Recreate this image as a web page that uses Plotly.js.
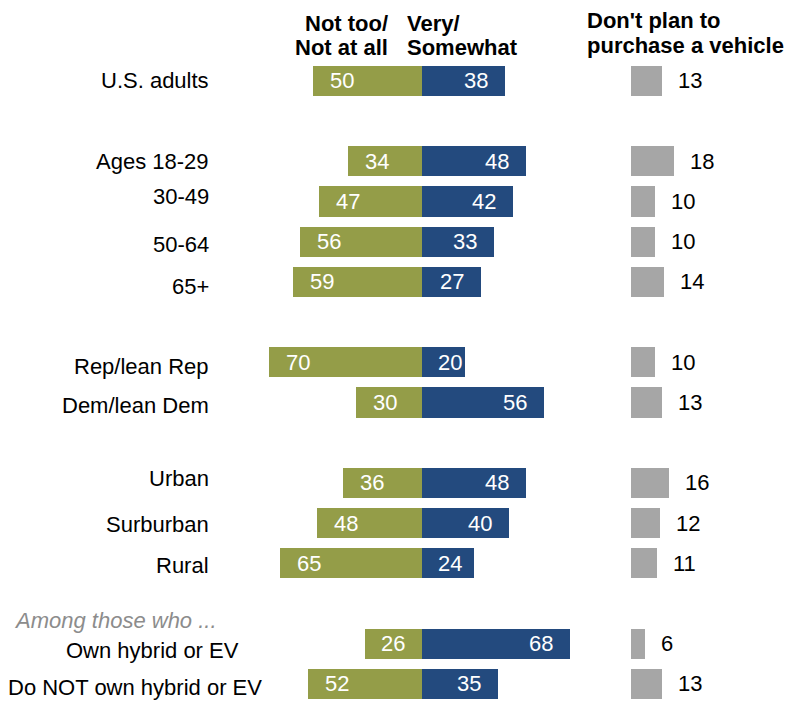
<!DOCTYPE html>
<html>
<head>
<meta charset="utf-8">
<script src="https://cdn.plot.ly/plotly-3.0.1.min.js"></script>
<style>
  html, body { margin: 0; padding: 0; background: #ffffff; }
  #chart { width: 792px; height: 704px; }
</style>
</head>
<body>
<div id="chart"></div>
<script>
// ---- Data ----
const categories = [
  "U.S. adults",
  "Ages 18-29", "30-49", "50-64", "65+",
  "Rep/lean Rep", "Dem/lean Dem",
  "Urban", "Surburban", "Rural",
  "Own hybrid or EV", "Do NOT own hybrid or EV"
];
const groupIndex = [0, 1, 1, 1, 1, 2, 2, 3, 3, 3, 4, 4];
const notTooNotAtAll = [50, 34, 47, 56, 59, 70, 30, 36, 48, 65, 26, 52];
const verySomewhat   = [38, 48, 42, 33, 27, 20, 56, 48, 40, 24, 68, 35];
const dontPlan       = [13, 18, 10, 10, 14, 10, 13, 16, 12, 11, 6, 13];
const headerLeft  = ["Not too/", "Not at all"];
const headerMid   = ["Very/", "Somewhat"];
const headerRight = ["Don't plan to", "purchase a vehicle"];
const subgroupNote = "Among those who ...";

// ---- Layout helpers (positions/styles, not data) ----
const W = 792, H = 704;
const GREEN = "#949D48", BLUE = "#234A7E", GRAY = "#A6A6A6";
const FONT = "Liberation Sans, Arial, sans-serif";
const rows = categories.map((c, i) => i + groupIndex[i]);
const px = v => v / W;
const py = v => 1 - v / H;
// label placement tweaks (pixel right edge & vertical nudge)
const labelRight = {"Own hybrid or EV": 241, "Do NOT own hybrid or EV": 264};
const labelNudge = {"30-49": 5, "50-64": -3, "65+": -5, "Rep/lean Rep": -4, "Dem/lean Dem": -3,
                    "Urban": 4, "Surburban": -1, "Rural": -2, "Own hybrid or EV": -7, "Do NOT own hybrid or EV": -4};

const traces = [
  {
    type: "bar", orientation: "h", name: "Not too/Not at all",
    y: rows, x: notTooNotAtAll.map(v => -v), width: 0.75,
    marker: {color: GREEN, line: {width: 0}}, hoverinfo: "skip",
    xaxis: "x", yaxis: "y"
  },
  {
    type: "bar", orientation: "h", name: "Very/Somewhat",
    y: rows, x: verySomewhat, width: 0.75,
    marker: {color: BLUE, line: {width: 0}}, hoverinfo: "skip",
    xaxis: "x", yaxis: "y"
  },
  {
    type: "bar", orientation: "h", name: "Don't plan to purchase a vehicle",
    y: rows, x: dontPlan, width: 0.75,
    marker: {color: GRAY, line: {width: 0}}, hoverinfo: "skip",
    xaxis: "x2", yaxis: "y"
  }
];

const annotations = [];
const baseFont = {family: FONT, size: 22, color: "#000000"};
categories.forEach((c, i) => {
  annotations.push({
    text: c, xref: "paper", yref: "y", x: px(labelRight[c] || 211), y: rows[i],
    xanchor: "right", yanchor: "middle", showarrow: false, font: baseFont,
    yshift: labelNudge[c] || 0
  });
  const g = notTooNotAtAll[i];
  annotations.push({
    text: String(g), xref: "x", yref: "y", x: -Math.max(g - 13.3, 13), y: rows[i],
    xanchor: "center", yanchor: "middle", showarrow: false,
    font: {family: FONT, size: 22, color: "#ffffff"}
  });
  const b = verySomewhat[i];
  annotations.push({
    text: String(b), xref: "x", yref: "y", x: Math.max(b - 13.3, 13), y: rows[i],
    xanchor: "center", yanchor: "middle", showarrow: false,
    font: {family: FONT, size: 22, color: "#ffffff"}
  });
  annotations.push({
    text: String(dontPlan[i]), xref: "x2", yref: "y", x: dontPlan[i], y: rows[i],
    xanchor: "left", yanchor: "middle", showarrow: false, xshift: 14,
    font: baseFont
  });
});

const headFont = {family: FONT, size: 22, color: "#000000", weight: "bold"};
headerLeft.forEach((t, k) => annotations.push({
  text: "<b>" + t + "</b>", xref: "paper", yref: "paper", x: px(390), y: py(k ? 47.5 : 23),
  xanchor: "right", yanchor: "middle", showarrow: false, font: headFont
}));
headerMid.forEach((t, k) => annotations.push({
  text: "<b>" + t + "</b>", xref: "paper", yref: "paper", x: px(405), y: py(k ? 47.5 : 23),
  xanchor: "left", yanchor: "middle", showarrow: false, font: headFont
}));
headerRight.forEach((t, k) => annotations.push({
  text: "<b>" + t + "</b>", xref: "paper", yref: "paper", x: px(585), y: py(k ? 45 : 20),
  xanchor: "left", yanchor: "middle", showarrow: false, font: headFont
}));
annotations.push({
  text: "<i>" + subgroupNote + "</i>", xref: "paper", yref: "paper", x: px(12), y: py(620),
  xanchor: "left", yanchor: "middle", showarrow: false,
  font: {family: FONT, size: 22, color: "#8C8C8C"}
});

// axis ranges so that zero line sits at ~421.7px (2.18 px/unit) and gray base at ~630.7px (2.4 px/unit)
const x1Dom = [0, 0.76];
const x1Range = [-421.7 / 2.18, (x1Dom[1] * W - 421.7) / 2.18];
const x2Dom = [0.78, 1];
const x2Range = [(x2Dom[0] * W - 630.7) / 2.4, (W - 630.7) / 2.4];
const yRange = [(H - 80.9) / 40.2, -80.9 / 40.2];

const hidden = {showgrid: false, zeroline: false, showticklabels: false, showline: false, ticks: "", fixedrange: true};

const layout = {
  width: W, height: H,
  margin: {l: 0, r: 0, t: 0, b: 0, pad: 0},
  paper_bgcolor: "#ffffff", plot_bgcolor: "#ffffff",
  showlegend: false, barmode: "overlay", bargap: 0,
  font: {family: FONT, size: 22, color: "#000000"},
  xaxis: Object.assign({domain: x1Dom, range: x1Range, anchor: "y"}, hidden),
  xaxis2: Object.assign({domain: x2Dom, range: x2Range, anchor: "y"}, hidden),
  yaxis: Object.assign({range: yRange}, hidden),
  annotations: annotations
};

Plotly.newPlot("chart", traces, layout, {displayModeBar: false, staticPlot: true});
</script>
</body>
</html>
